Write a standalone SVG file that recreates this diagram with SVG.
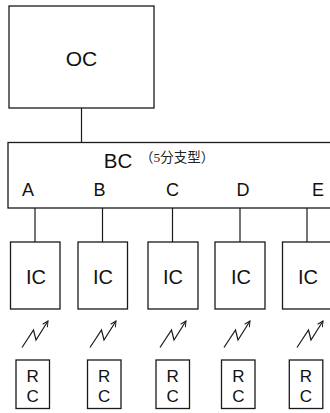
<svg xmlns="http://www.w3.org/2000/svg" width="330" height="413" viewBox="0 0 330 413">
<defs>
<style>
.box{fill:#fff;stroke:#1a1a1a;stroke-width:1.3}
.ln{fill:none;stroke:#1a1a1a;stroke-width:1.2}
.t{font-family:"Liberation Sans",Arial,sans-serif;fill:#111;text-anchor:middle}
.cj{font-family:"Liberation Serif","Noto Sans CJK JP",serif;fill:#222;font-size:13.5px}
</style>
<marker id="ah" viewBox="0 0 10 10" refX="9" refY="5" markerWidth="7" markerHeight="7" orient="auto" markerUnits="userSpaceOnUse">
<path d="M1,1 L9,5 L1,9" fill="none" stroke="#1a1a1a" stroke-width="1.4"/>
</marker>
</defs>
<rect width="330" height="413" fill="#fff"/>
<g id="connectors">
<path class="ln" d="M81.5,108 V142"/>
<path class="ln" d="M35,208 V242 M102.5,208 V242 M172.5,208 V242 M240,208 V242 M307,208 V242"/>
<g id="wireless">
<path class="ln" d="M22,347.5 L33.5,330 L36,340 L48,321" marker-end="url(#ah)"/>
<path class="ln" d="M90,347.5 L101.5,330 L104,340 L116,321" marker-end="url(#ah)"/>
<path class="ln" d="M160,347.5 L171.5,330 L174,340 L186,321" marker-end="url(#ah)"/>
<path class="ln" d="M224,347.5 L235.5,330 L238,340 L250,321" marker-end="url(#ah)"/>
<path class="ln" d="M297,347.5 L308.5,330 L311,340 L323,321" marker-end="url(#ah)"/>
</g>
</g>
<g id="OC">
<rect class="box" x="9" y="6" width="145" height="102"/>
<text class="t" x="81.5" y="65.5" font-size="21">OC</text>
</g>
<g id="BC">
<rect class="box" x="8" y="142.5" width="330" height="65.5"/>
<text class="t" x="118" y="167.5" font-size="20.5">BC</text>
<text class="cj" x="140" y="161.5">（5分支型）</text>
<text class="t" x="28" y="196" font-size="18">A</text>
<text class="t" x="99.5" y="196" font-size="18">B</text>
<text class="t" x="172.5" y="196" font-size="18">C</text>
<text class="t" x="243" y="196" font-size="18">D</text>
<text class="t" x="318" y="196" font-size="18">E</text>
</g>
<g id="IC1"><rect class="box" x="10.5" y="242" width="49.5" height="67"/><text class="t" x="36" y="284" font-size="20">IC</text></g>
<g id="IC2"><rect class="box" x="78" y="242" width="49.5" height="67"/><text class="t" x="103" y="284" font-size="20">IC</text></g>
<g id="IC3"><rect class="box" x="148" y="242" width="50" height="67"/><text class="t" x="173" y="284" font-size="20">IC</text></g>
<g id="IC4"><rect class="box" x="215" y="242" width="50" height="67"/><text class="t" x="241" y="284" font-size="20">IC</text></g>
<g id="IC5"><rect class="box" x="282.5" y="242" width="50" height="67"/><text class="t" x="308" y="284" font-size="20">IC</text></g>
<g id="RC1"><rect class="box" x="16" y="360" width="33.5" height="48.5"/><text class="t" x="32.7" y="381.5" font-size="17">R</text><text class="t" x="32.7" y="401.5" font-size="17">C</text></g>
<g id="RC2"><rect class="box" x="87.5" y="360" width="33.5" height="48.5"/><text class="t" x="104.2" y="381.5" font-size="17">R</text><text class="t" x="104.2" y="401.5" font-size="17">C</text></g>
<g id="RC3"><rect class="box" x="156" y="360" width="33.5" height="48.5"/><text class="t" x="172.7" y="381.5" font-size="17">R</text><text class="t" x="172.7" y="401.5" font-size="17">C</text></g>
<g id="RC4"><rect class="box" x="221.5" y="360" width="33.5" height="48.5"/><text class="t" x="238.3" y="381.5" font-size="17">R</text><text class="t" x="238.3" y="401.5" font-size="17">C</text></g>
<g id="RC5"><rect class="box" x="289.3" y="360" width="33.5" height="48.5"/><text class="t" x="306" y="381.5" font-size="17">R</text><text class="t" x="306" y="401.5" font-size="17">C</text></g>
</svg>
